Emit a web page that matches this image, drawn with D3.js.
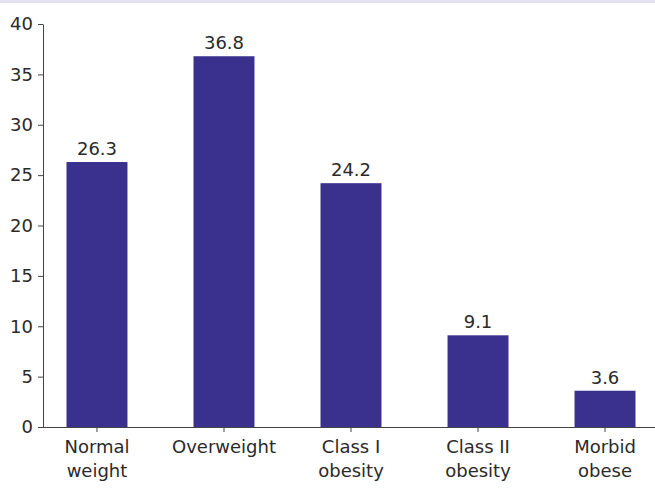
<!DOCTYPE html>
<html>
<head>
<meta charset="utf-8">
<script src="https://cdn.jsdelivr.net/npm/d3@7"></script>
<style>
  body { margin: 0; background: #fff; }
  svg text { font-family: "DejaVu Sans", Verdana, sans-serif; fill: #2a2a2a; }
</style>
</head>
<body>
<div id="chart"></div>
<script>
const categories = [['Normal', 'weight'], ['Overweight'], ['Class I', 'obesity'], ['Class II', 'obesity'], ['Morbid', 'obese']];
const values = [26.3, 36.8, 24.2, 9.1, 3.6];
const yTicks = [0, 5, 10, 15, 20, 25, 30, 35, 40];

const width = 655, height = 489;
const margin = { left: 43, top: 24, bottom: 62 };

const svg = d3.select('#chart').append('svg')
  .attr('width', width)
  .attr('height', height);

// top border strip
svg.append('rect')
  .attr('x', 0).attr('y', 0)
  .attr('width', width).attr('height', 3)
  .attr('fill', '#e3e1ef');

const x = d3.scaleBand()
  .domain(d3.range(values.length))
  .range([margin.left, 659])
  .paddingInner(0.52)
  .paddingOuter(0.185);

const y = d3.scaleLinear()
  .domain([0, 40])
  .range([height - margin.bottom, margin.top]);

// bars
svg.append('g').selectAll('rect')
  .data(values)
  .join('rect')
  .attr('x', (d, i) => x(i))
  .attr('y', d => y(d))
  .attr('width', x.bandwidth())
  .attr('height', d => y(0) - y(d))
  .attr('fill', '#3a318f');

// value labels
svg.append('g').selectAll('text')
  .data(values)
  .join('text')
  .attr('x', (d, i) => x(i) + x.bandwidth() / 2)
  .attr('y', d => y(d) - 7)
  .attr('text-anchor', 'middle')
  .style('font-size', '18px')
  .text(d => d.toFixed(1));

// y axis
const yAxis = svg.append('g')
  .attr('transform', `translate(${margin.left},0)`)
  .call(d3.axisLeft(y).tickValues(yTicks).tickSize(5).tickSizeOuter(0).tickPadding(5));
yAxis.selectAll('text').style('font-size', '18px');
yAxis.selectAll('path, line').attr('stroke', '#444');

// x axis
const xAxis = svg.append('g')
  .attr('transform', `translate(0,${y(0)})`)
  .call(d3.axisBottom(x).tickSize(5).tickSizeOuter(0).tickFormat(''));
xAxis.select('.domain').attr('d', `M${margin.left - 5},0.5H${width}`);
xAxis.selectAll('path, line').attr('stroke', '#444');

xAxis.selectAll('.tick text').remove();
xAxis.selectAll('.tick').each(function (d) {
  const t = d3.select(this).append('text')
    .attr('text-anchor', 'middle')
    .style('font-size', '18px');
  categories[d].forEach((line, k) => {
    t.append('tspan')
      .attr('x', 0)
      .attr('y', 26 + k * 24)
      .text(line);
  });
});
</script>
</body>
</html>
